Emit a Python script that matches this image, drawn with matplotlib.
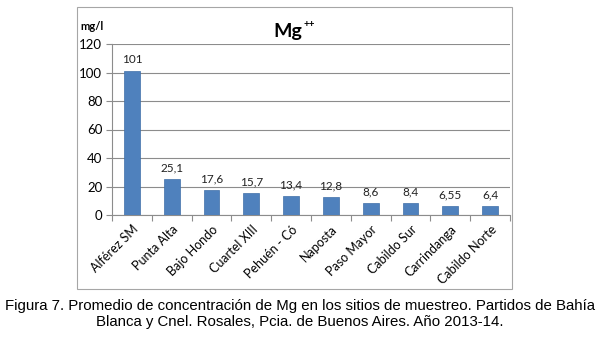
import matplotlib.pyplot as plt
import matplotlib as mpl
from matplotlib.patches import Rectangle

mpl.rcParams['font.family'] = ['Lato', 'DejaVu Sans']

# Mg++ mean concentration per sampling site (mg/l)
sites = ['Alférez SM', 'Punta Alta', 'Bajo Hondo', 'Cuartel XIII', 'Pehuén - Có',
         'Naposta', 'Paso Mayor', 'Cabildo Sur', 'Carrindanga', 'Cabildo Norte']
mg_values = [101, 25.1, 17.6, 15.7, 13.4, 12.8, 8.6, 8.4, 6.55, 6.4]
value_labels = ['101', '25,1', '17,6', '15,7', '13,4', '12,8', '8,6', '8,4', '6,55', '6,4']
y_ticks = [0, 20, 40, 60, 80, 100, 120]

fig = plt.figure(figsize=(6, 3.4), dpi=100)
ax = fig.add_axes([112 / 600, 1 - 215 / 340, (510 - 112) / 600, (215 - 44) / 340])

# outer chart frame
fig.patches.append(Rectangle((77 / 600, 1 - 289 / 340), (512 - 77) / 600, (289 - 7) / 340,
                             transform=fig.transFigure, fill=False,
                             edgecolor='#a6a6a6', linewidth=0.8))

x = range(len(sites))
bars = ax.bar(x, mg_values, width=0.4, color='#4f81bd', edgecolor='#3f6fa8', linewidth=0.5,
              zorder=3)
for xi, v, lab in zip(x, mg_values, value_labels):
    ax.text(xi, v + 4, lab, ha='center', va='bottom', fontsize=8.5, color='#222222')

ax.set_xlim(-0.5, len(sites) - 0.5)
ax.set_ylim(0, 120)
ax.set_yticks(y_ticks)
ax.yaxis.grid(True, color='#8c8c8c', linewidth=0.8, zorder=0)
ax.set_xticks([i - 0.5 for i in range(len(sites) + 1)])
ax.set_xticklabels([])
ax.set_xticks(list(x), minor=True)
ax.set_xticklabels(sites, minor=True, rotation=45, ha='right', rotation_mode='anchor',
                   fontsize=9)
ax.tick_params(axis='x', which='major', length=4, direction='out', color='#8c8c8c')
ax.tick_params(axis='x', which='minor', length=0, pad=6)
ax.tick_params(axis='y', length=4, direction='out', color='#8c8c8c', labelsize=9.5, pad=3)

for side in ['top', 'right']:
    ax.spines[side].set_visible(False)
for side in ['left', 'bottom']:
    ax.spines[side].set_color('#8c8c8c')

# title: Mg with a small raised ++
fig.text(302 / 600, 1 - 32 / 340, 'Mg', ha='right', va='center',
         fontsize=14, fontweight='bold')
fig.text(303 / 600, 1 - 24 / 340, '++', ha='left', va='center',
         fontsize=7, fontweight='bold')
fig.text(80 / 600, 1 - 27 / 340, 'mg/l', ha='left', va='center', fontsize=8,
         fontweight='bold')

caption = ('Figura 7. Promedio de concentración de Mg en los sitios de muestreo. Partidos de Bahía\n'
           'Blanca y Cnel. Rosales, Pcia. de Buenos Aires. Año 2013-14.')
fig.text(300 / 600, 1 - 314 / 340, caption, ha='center', va='center', fontsize=10.8,
         family='Liberation Sans', linespacing=1.1)

fig.savefig('out.png', dpi=100)
